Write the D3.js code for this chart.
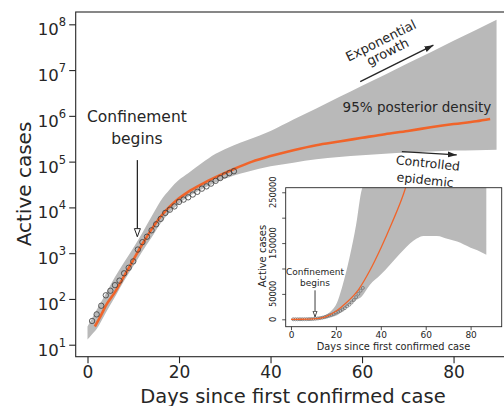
<!DOCTYPE html>
<html><head><meta charset="utf-8">
<script src="https://cdn.jsdelivr.net/npm/d3@7"></script>
<style>
body{margin:0;background:#fff}
svg{display:block}
text{font-family:"DejaVu Sans",sans-serif;fill:#262626}
</style>
</head><body><svg id="c" width="504" height="406"></svg>
<script>
// ---------- data ----------
const obsDays = [1,2,3,4,5,6,7,8,9,10,11,12,13,14,15,16,17,18,19,20,21,22,23,24,25,26,27,28,29,30,31,32];
const obsCases = [33,46,71,120,151,200,251,363,479,661,1200,1740,2290,3160,4270,5620,7590,8910,10500,13200,14800,16600,19100,21900,25700,28800,33100,38000,43700,50100,56200,61700];

const fitDays = [1.6,3,4,6,8,10,12,14,16,18,20,22,25,28,32,36,40,45,50,55,60,65,70,75,80,85,88];
const fitCases = [25,45,71,141,316,708,1585,3310,6310,10500,15800,21900,32400,45700,69200,100000,132000,178000,229000,275000,331000,398000,468000,562000,661000,759000,851000];

const bandDays = [0,1,2,4,6,8,10,12,14,16,18,20,22,25,28,30,32,35,40,45,50,55,60,65,70,75,80,85,89.4];
const bandLow = [13,17,22,50,110,250,520,1100,2200,4500,7900,12000,17000,25000,35000,42000,50000,60000,79000,95000,112000,126000,138000,148000,158000,166000,174000,178000,182000];
const bandHigh = [25,38,58,130,300,630,1300,2800,6300,14000,25000,40000,56000,93000,148000,186000,229000,295000,468000,832000,1450000,2570000,4570000,7940000,14100000,24500000,43700000,75900000,126000000];

const insetFitDays = [0,5,10,15,20,25,30,35,40,45,50,52];
const insetFitCases = [20,100,700,4500,16000,34000,58000,95000,140000,190000,245000,272000];
const insetBandDays = [0,5,10,14,18,20,23,26,29,31.5,35,40,44,50,56,59,65,70,74,80,83,87];
const insetBandLow = [0,20,200,1000,4000,7000,16000,28000,38000,45000,67000,88000,107000,136000,159000,164000,164000,158000,153000,141000,136000,127000];
const insetBandHigh = [30,300,2000,6000,17000,28000,67000,120000,186000,255000,282000,450000,620000,1150000,2200000,2900000,4700000,7000000,10000000,18000000,24000000,35000000];

const xTicks = [0,20,40,60,80];
const yTicks = [1e1,1e2,1e3,1e4,1e5,1e6,1e7,1e8];
const yTickExps = ["1","2","3","4","5","6","7","8"];
const insetYTicks = [0,50000,100000,150000,200000,250000];
const insetYTickLabels = ["0","50000","","150000","","250000"];

// annotations (data coordinates)
const confText = [{t:"Confinement", day:10.8, v:9.5e5},{t:"begins", day:10.8, v:3.2e5}];
const confArrow = {day:10.9, from:1.08e5, to:2.3e3};
const expText = [{t:"Exponential", day:64.1, v:4.4e7},{t:"growth", day:65.6, v:2.5e7}];
const expArrow = {d0:59.6, v0:5.6e6, d1:75.6, v1:3.5e7};
const postText = {t:"95% posterior density", day:72.0, v:1.55e6};
const ctrlText = [{t:"Controlled", day:74.4, v:9.3e4},{t:"epidemic", day:73.8, v:4.0e4}];
const ctrlArrow = {d0:68.7, v0:1.65e5, d1:80.7, v1:1.4e5};
const insetConfText = [{t:"Confinement", day:10.7, v:93000},{t:"begins", day:10.7, v:71000}];
const insetConfArrow = {day:10.7, from:57000, to:5000};

// ---------- drawing ----------
const svg = d3.select("#c");
const ORANGE = "#f0642a", GRAY = "#b9b9b9", INK = "#262626";

const L = 75.7, R = 508, T = 12, B = 356.7;
const x = d3.scaleLinear().domain([-2.58, 91.9]).range([L, R]);
const y = d3.scaleLog().domain([Math.pow(10,0.738), Math.pow(10,8.269)]).range([B, T]);

const defs = svg.append("defs");
defs.append("clipPath").attr("id","mainClip").append("rect").attr("x",L).attr("y",T).attr("width",R-L).attr("height",B-T);
defs.append("marker").attr("id","headFill").attr("markerUnits","userSpaceOnUse")
  .attr("markerWidth",10).attr("markerHeight",7).attr("refX",9).attr("refY",3).attr("orient","auto")
  .append("path").attr("d","M0,0L9,3L0,6Z").attr("fill",INK);
defs.append("marker").attr("id","headOpen").attr("markerUnits","userSpaceOnUse")
  .attr("markerWidth",10).attr("markerHeight",8).attr("refX",8.5).attr("refY",3.5).attr("orient","auto")
  .append("path").attr("d","M0.5,0.5L8.5,3.5L0.5,6.5Z").attr("fill","#fff").attr("stroke",INK).attr("stroke-width",1);
defs.append("marker").attr("id","headOpenS").attr("markerUnits","userSpaceOnUse")
  .attr("markerWidth",8).attr("markerHeight",6).attr("refX",6).attr("refY",2.5).attr("orient","auto")
  .append("path").attr("d","M0.5,0.5L6,2.5L0.5,4.5Z").attr("fill","#fff").attr("stroke",INK).attr("stroke-width",0.8);

const band = bandDays.map((d,i)=>({d, lo:bandLow[i], hi:bandHigh[i]}));
const g = svg.append("g").attr("clip-path","url(#mainClip)");
g.append("path").datum(band)
  .attr("d", d3.area().x(p=>x(p.d)).y0(p=>y(p.lo)).y1(p=>y(p.hi)).curve(d3.curveMonotoneX))
  .attr("fill", GRAY);
g.append("path").datum(fitDays.map((d,i)=>[d,fitCases[i]]))
  .attr("d", d3.line().x(p=>x(p[0])).y(p=>y(p[1])).curve(d3.curveMonotoneX))
  .attr("fill","none").attr("stroke",ORANGE).attr("stroke-width",2.6);
g.selectAll("circle.obs").data(obsDays.map((d,i)=>[d,obsCases[i]])).join("circle")
  .attr("cx",p=>x(p[0])).attr("cy",p=>y(p[1])).attr("r",2.7)
  .attr("fill","none").attr("stroke","#3a3a3a").attr("stroke-width",0.8);

// frame
svg.append("rect").attr("x",L).attr("y",T).attr("width",R-L).attr("height",B-T)
  .attr("fill","none").attr("stroke",INK).attr("stroke-width",1.1);

// axes
const xa = svg.append("g").attr("transform",`translate(0,${B})`)
  .call(d3.axisBottom(x).tickValues(xTicks).tickSize(6.5).tickFormat(d3.format("d")));
xa.select(".domain").remove();
xa.selectAll("line").attr("stroke",INK).attr("stroke-width",1.1);
xa.selectAll("text").attr("font-size",17).attr("fill",INK).attr("y",9).attr("dy","0.71em");

const ya = svg.append("g").attr("transform",`translate(${L},0)`)
  .call(d3.axisLeft(y).tickValues(yTicks).tickSize(6.5).tickFormat(""));
ya.select(".domain").remove();
ya.selectAll("line").attr("stroke",INK).attr("stroke-width",1.1);
yTicks.forEach((t,i)=>{
  const tx = svg.append("text").attr("x",L-9.5).attr("y",y(t)+11).attr("text-anchor","end");
  tx.append("tspan").attr("font-size",16.5).text("10");
  tx.append("tspan").attr("font-size",11.5).attr("dy",-9).text(yTickExps[i]);
});

svg.append("text").attr("transform",`translate(23.5,184) rotate(-90)`)
  .attr("text-anchor","middle").attr("dominant-baseline","central").attr("font-size",20).text("Active cases");
svg.append("text").attr("x",293).attr("y",402.5).attr("text-anchor","middle").attr("font-size",19.5)
  .text("Days since first confirmed case");

// annotations main
confText.forEach(a=>svg.append("text").attr("x",x(a.day)).attr("y",y(a.v)).attr("text-anchor","middle")
  .attr("dominant-baseline","central").attr("font-size",15.5).text(a.t));
svg.append("line").attr("x1",x(confArrow.day)).attr("x2",x(confArrow.day))
  .attr("y1",y(confArrow.from)).attr("y2",y(confArrow.to))
  .attr("stroke",INK).attr("stroke-width",1.3).attr("marker-end","url(#headOpen)");

const expAng = Math.atan2(y(expArrow.v1)-y(expArrow.v0), x(expArrow.d1)-x(expArrow.d0))*180/Math.PI;
expText.forEach(a=>svg.append("text").attr("transform",`translate(${x(a.day)},${y(a.v)}) rotate(${expAng})`)
  .attr("text-anchor","middle").attr("dominant-baseline","central").attr("font-size",13).text(a.t));
svg.append("line").attr("x1",x(expArrow.d0)).attr("y1",y(expArrow.v0)).attr("x2",x(expArrow.d1)).attr("y2",y(expArrow.v1))
  .attr("stroke",INK).attr("stroke-width",1.3).attr("marker-end","url(#headFill)");

svg.append("text").attr("x",x(postText.day)).attr("y",y(postText.v)).attr("text-anchor","middle")
  .attr("dominant-baseline","central").attr("font-size",13.5).text(postText.t);

ctrlText.forEach(a=>svg.append("text").attr("transform",`translate(${x(a.day)},${y(a.v)}) rotate(6)`)
  .attr("text-anchor","middle").attr("dominant-baseline","central").attr("font-size",12.5).text(a.t));
svg.append("line").attr("x1",x(ctrlArrow.d0)).attr("y1",y(ctrlArrow.v0)).attr("x2",x(ctrlArrow.d1)).attr("y2",y(ctrlArrow.v1))
  .attr("stroke",INK).attr("stroke-width",1.3).attr("marker-end","url(#headFill)");

// ---------- inset ----------
const iL = 285.7, iR = 501.7, iT = 187.7, iB = 326.7;
const ix = d3.scaleLinear().domain([-2.36, 93.85]).range([iL, iR]);
const iy = d3.scaleLinear().domain([-14570, 259000]).range([iB, iT]);
defs.append("clipPath").attr("id","insClip").append("rect").attr("x",iL).attr("y",iT).attr("width",iR-iL).attr("height",iB-iT);

svg.append("rect").attr("x",iL).attr("y",iT).attr("width",iR-iL).attr("height",iB-iT).attr("fill","#fff");
const ig = svg.append("g").attr("clip-path","url(#insClip)");
ig.append("path").datum(insetBandDays.map((d,i)=>({d, lo:insetBandLow[i], hi:insetBandHigh[i]})))
  .attr("d", d3.area().x(p=>ix(p.d)).y0(p=>iy(p.lo)).y1(p=>iy(p.hi)).curve(d3.curveMonotoneX))
  .attr("fill", GRAY);
ig.selectAll("circle.io").data(obsDays.map((d,i)=>[d,obsCases[i]])).join("circle")
  .attr("cx",p=>ix(p[0])).attr("cy",p=>iy(p[1])).attr("r",1.5)
  .attr("fill","none").attr("stroke","#6a6a6a").attr("stroke-width",0.7);
ig.append("path").datum(insetFitDays.map((d,i)=>[d,insetFitCases[i]]))
  .attr("d", d3.line().x(p=>ix(p[0])).y(p=>iy(p[1])).curve(d3.curveMonotoneX))
  .attr("fill","none").attr("stroke",ORANGE).attr("stroke-width",1.3);
svg.append("rect").attr("x",iL).attr("y",iT).attr("width",iR-iL).attr("height",iB-iT)
  .attr("fill","none").attr("stroke",INK).attr("stroke-width",0.9);

const ixa = svg.append("g").attr("transform",`translate(0,${iB})`)
  .call(d3.axisBottom(ix).tickValues(xTicks).tickSize(3.5).tickFormat(d3.format("d")));
ixa.select(".domain").remove();
ixa.selectAll("line").attr("stroke",INK).attr("stroke-width",0.8);
ixa.selectAll("text").attr("font-size",9).attr("fill",INK).attr("y",5).attr("dy","0.71em");

const iya = svg.append("g").attr("transform",`translate(${iL},0)`)
  .call(d3.axisLeft(iy).tickValues(insetYTicks).tickSize(3.5).tickFormat(""));
iya.select(".domain").remove();
iya.selectAll("line").attr("stroke",INK).attr("stroke-width",0.8);
insetYTicks.forEach((t,i)=>{
  if(!insetYTickLabels[i]) return;
  svg.append("text").attr("transform",`translate(${iL-12.5},${iy(t)}) rotate(-90)`)
    .attr("text-anchor","middle").attr("dominant-baseline","central").attr("font-size",8.3).text(insetYTickLabels[i]);
});
svg.append("text").attr("transform",`translate(262,256) rotate(-90)`)
  .attr("text-anchor","middle").attr("dominant-baseline","central").attr("font-size",10).text("Active cases");
svg.append("text").attr("x",393.5).attr("y",350).attr("text-anchor","middle").attr("font-size",9.8)
  .text("Days since first confirmed case");

insetConfText.forEach(a=>svg.append("text").attr("x",ix(a.day)).attr("y",iy(a.v)).attr("text-anchor","middle")
  .attr("dominant-baseline","central").attr("font-size",9).text(a.t));
svg.append("line").attr("x1",ix(insetConfArrow.day)).attr("x2",ix(insetConfArrow.day))
  .attr("y1",iy(insetConfArrow.from)).attr("y2",iy(insetConfArrow.to))
  .attr("stroke",INK).attr("stroke-width",0.9).attr("marker-end","url(#headOpenS)");
</script></body></html>
